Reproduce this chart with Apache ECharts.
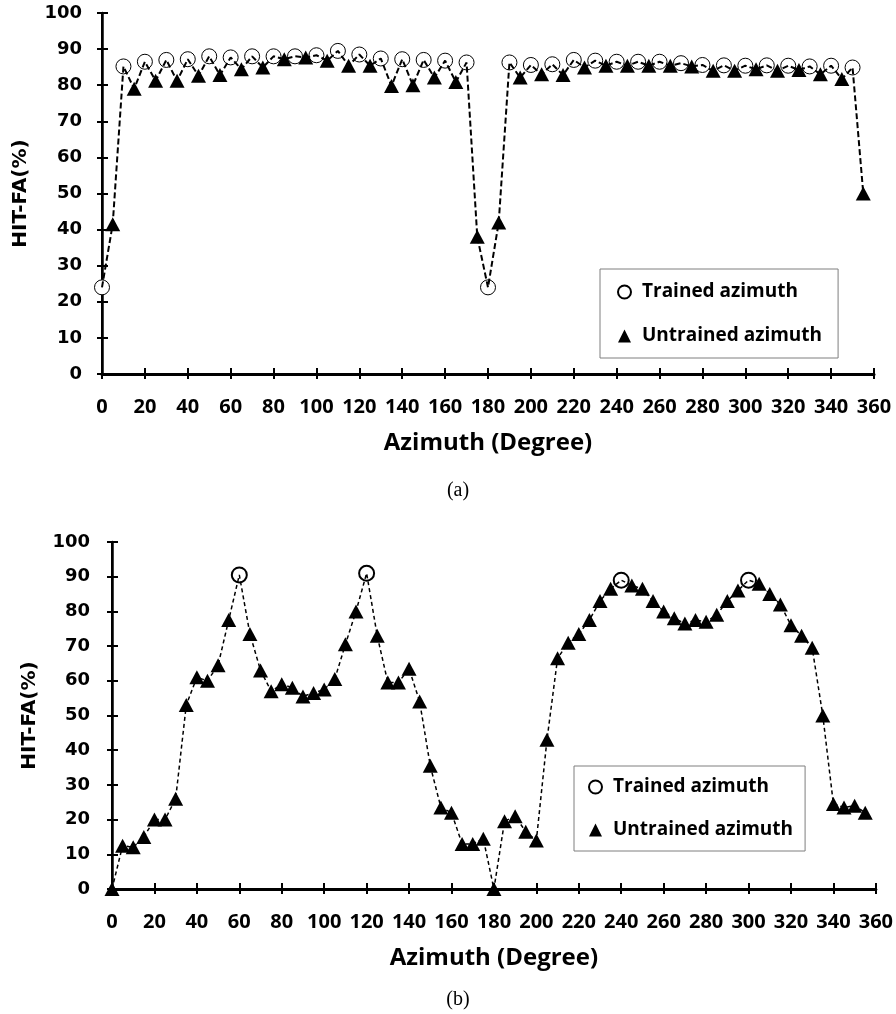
<!DOCTYPE html>
<html>
<head>
<meta charset="utf-8">
<script src="https://cdn.jsdelivr.net/npm/echarts@6/dist/echarts.min.js"></script>
<style>
  html, body { margin: 0; padding: 0; background: #fff; }
  #chart { width: 896px; height: 1014px; }
</style>
</head>
<body>
<div id="chart"></div>
<script>
// ---- panel (a) ----
const trainedAzA = [0, 10, 20, 30, 40, 50, 60, 70, 80, 90, 100, 110, 120, 130, 140, 150, 160, 170,
  180, 190, 200, 210, 220, 230, 240, 250, 260, 270, 280, 290, 300, 310, 320, 330, 340, 350]
const trainedValA = [24, 85.2, 86.5, 87, 87.2, 88, 87.7, 88, 88, 88, 88.3, 89.5, 88.5, 87.4, 87.2, 87, 86.8, 86.3,
  24, 86.3, 85.6, 85.8, 87, 86.8, 86.5, 86.5, 86.5, 86.1, 85.6, 85.5, 85.4, 85.5, 85.4, 85.2, 85.4, 84.9]
const untrainedAzA = [5, 15, 25, 35, 45, 55, 65, 75, 85, 95, 105, 115, 125, 135, 145, 155, 165, 175,
  185, 195, 205, 215, 225, 235, 245, 255, 265, 275, 285, 295, 305, 315, 325, 335, 345, 355]
const untrainedValA = [41.5, 79, 81.2, 81.2, 82.6, 82.8, 84.4, 84.9, 87.2, 87.7, 86.8, 85.4, 85.4, 79.8, 80, 82.1, 80.9, 38,
  42, 82.1, 83, 82.8, 84.9, 85.4, 85.4, 85.4, 85.4, 85.2, 84, 84, 84.4, 84, 84.2, 83, 81.7, 50]

// ---- panel (b) ----
const trainedAzB = [60, 120, 240, 300]
const trainedValB = [90.5, 91, 89, 89]
const untrainedAzB = [0, 5, 10, 15, 20, 25, 30, 35, 40, 45, 50, 55,
  65, 70, 75, 80, 85, 90, 95, 100, 105, 110, 115,
  125, 130, 135, 140, 145, 150, 155, 160, 165, 170, 175, 180, 185, 190, 195, 200, 205, 210, 215, 220, 225, 230, 235,
  245, 250, 255, 260, 265, 270, 275, 280, 285, 290, 295,
  305, 310, 315, 320, 325, 330, 335, 340, 345, 350, 355]
const untrainedValB = [0, 12.5, 12, 15, 20, 20, 26, 53, 61, 60, 64.5, 77.5,
  73.5, 63, 57, 59, 58, 55.5, 56.5, 57.5, 60.5, 70.5, 80,
  73, 59.5, 59.5, 63.5, 54, 35.5, 23.5, 22, 13, 13, 14.5, 0, 19.5, 21, 16.5, 14, 43, 66.5, 71, 73.5, 77.5, 83, 86.5,
  87.5, 86.5, 83, 80, 78, 76.5, 77.5, 77, 79, 83, 86,
  88, 85, 82, 76, 73, 69.5, 50, 24.5, 23.5, 24, 22]

const xTicks = [0, 360, 20]
const yTicks = [0, 100, 10]

function pairs(az, val) {
  return az.map((a, i) => [a, val[i]])
}
// dashed line runs through every point in azimuth order
function joined(az1, v1, az2, v2) {
  return pairs(az1, v1).concat(pairs(az2, v2)).sort((p, q) => p[0] - q[0])
}

const black = '#000'
const tickFont = { fontFamily: 'Open Sans', fontWeight: 'bold', fontSize: 20, color: black }
const yFont = { fontFamily: 'DejaVu Sans', fontWeight: 'bold', fontSize: 18, color: black }

function bottomAxis(grid) {
  return {
    gridIndex: grid, type: 'value', position: 'bottom',
    min: xTicks[0], max: xTicks[1], interval: xTicks[2],
    axisLine: { lineStyle: { color: black, width: 3 } },
    axisTick: { inside: true, length: 6, lineStyle: { color: black, width: 2 } },
    axisLabel: Object.assign({ margin: 23 }, tickFont),
    splitLine: { show: false },
    name: 'Azimuth (Degree)', nameLocation: 'middle', nameGap: 57,
    nameTextStyle: { fontFamily: 'Open Sans', fontWeight: 'bold', fontSize: 24, color: black }
  }
}
function topAxis(grid) {
  return {
    gridIndex: grid, type: 'value', position: 'top',
    min: xTicks[0], max: xTicks[1], interval: xTicks[2],
    axisLine: { lineStyle: { color: black, width: 2 } },
    axisTick: { inside: true, length: 5, lineStyle: { color: black, width: 2 } },
    axisLabel: { show: false }, splitLine: { show: false }
  }
}
function leftAxis(grid, gap, margin) {
  return {
    gridIndex: grid, type: 'value', position: 'left',
    min: yTicks[0], max: yTicks[1], interval: yTicks[2],
    axisLine: { show: true, lineStyle: { color: black, width: 2.5 } },
    axisTick: { show: true, inside: true, length: 6, lineStyle: { color: black, width: 2 } },
    axisLabel: Object.assign({ margin: margin }, yFont),
    splitLine: { show: false },
    name: 'HIT-FA(%)', nameLocation: 'middle', nameGap: gap,
    nameTextStyle: { fontFamily: 'DejaVu Sans', fontWeight: 'bold', fontSize: 20, color: black }
  }
}
function rightAxis(grid) {
  return {
    gridIndex: grid, type: 'value', position: 'right',
    min: yTicks[0], max: yTicks[1], interval: yTicks[2],
    axisLine: { show: true, lineStyle: { color: black, width: 2 } },
    axisTick: { show: true, inside: true, length: 5, lineStyle: { color: black, width: 2 } },
    axisLabel: { show: false }, splitLine: { show: false }
  }
}

function panelSeries(idx, tAz, tVal, uAz, uVal, lineWidth, dash, circleBorder) {
  return [
    {
      name: 'Trained azimuth', type: 'scatter', xAxisIndex: idx * 2, yAxisIndex: idx * 2,
      data: pairs(tAz, tVal), symbol: 'circle', symbolSize: 15, clip: false, z: 2,
      itemStyle: { color: '#fff', borderColor: black, borderWidth: circleBorder, opacity: 1 }
    },
    {
      name: 'Untrained azimuth', type: 'scatter', xAxisIndex: idx * 2, yAxisIndex: idx * 2,
      data: pairs(uAz, uVal), symbol: 'triangle', symbolSize: [15, 14], clip: false, z: 3,
      itemStyle: { color: black, opacity: 1 }
    },
    {
      type: 'line', xAxisIndex: idx * 2, yAxisIndex: idx * 2,
      data: joined(tAz, tVal, uAz, uVal), symbol: 'none', z: 4, silent: true,
      lineStyle: { color: black, width: lineWidth, type: dash }
    }
  ]
}

function legendBox(left, top, pad, gap) {
  return {
    data: ['Trained azimuth', 'Untrained azimuth'],
    orient: 'vertical', left: left, top: top, padding: pad, itemGap: gap,
    itemWidth: 13, itemHeight: 13,
    borderColor: '#7f7f7f', borderWidth: 1, backgroundColor: '#fff',
    selectedMode: false,
    textStyle: { fontFamily: 'Open Sans', fontWeight: 'bold', fontSize: 19, color: black, lineHeight: 20, padding: [0, 0, 0, 6] }
  }
}

const option = {
  animation: false,
  backgroundColor: '#fff',
  grid: [
    { left: 102, top: 13, width: 772, height: 361 },
    { left: 112, top: 542, width: 768, height: 347 }
  ],
  xAxis: [bottomAxis(0), topAxis(0), bottomAxis(1), topAxis(1)],
  yAxis: [leftAxis(0, 71, 20), rightAxis(0), leftAxis(1, 72, 22), rightAxis(1)],
  legend: [
    legendBox(600, 269, [13, 16, 12, 17], 24),
    legendBox(574, 766, [11, 12, 11, 14], 23)
  ],
  series: [].concat(
    panelSeries(0, trainedAzA, trainedValA, untrainedAzA, untrainedValA, 2, [6, 3], 1),
    panelSeries(1, trainedAzB, trainedValB, untrainedAzB, untrainedValB, 1.5, [4, 3], 2)
  ),
  graphic: [
    { type: 'text', x: 458, y: 491, style: { text: '(a)', font: '20px "Liberation Serif"', fill: black, textAlign: 'center', textVerticalAlign: 'middle' } },
    { type: 'text', x: 458, y: 1000, style: { text: '(b)', font: '20px "Liberation Serif"', fill: black, textAlign: 'center', textVerticalAlign: 'middle' } }
  ]
}

const chart = echarts.init(document.getElementById('chart'))
chart.setOption(option)
</script>
</body>
</html>
